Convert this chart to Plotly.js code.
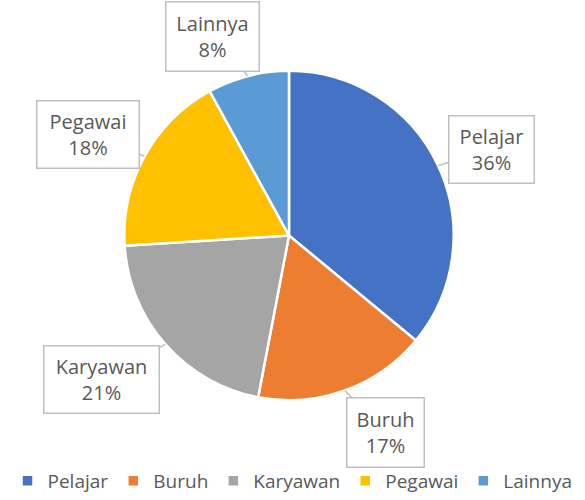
<!DOCTYPE html>
<html>
<head>
<meta charset="utf-8">
<script src="https://cdn.plot.ly/plotly-3.0.1.min.js"></script>
<style>html,body{margin:0;padding:0;background:#fff;}#chart{width:585px;height:500px;}</style>
</head>
<body>
<div id="chart"></div>
<script>
// ---- data ----
const categories = ["Pelajar", "Buruh", "Karyawan", "Pegawai", "Lainnya"];
const values = [36, 17, 21, 18, 8];
const colors = ["#4472C4", "#ED7D31", "#A5A5A5", "#FFC000", "#5B9BD5"];

// ---- layout/style (not data) ----
const W = 585, H = 500;
const cx = 289, cy = 236, R = 165;          // pie geometry in px
// label box centres and sizes (px)
const boxPos = [[491, 150], [385, 433], [101, 380], [88, 135], [212, 37]];
const boxSize = [[80, 62], [72, 64], [110, 62], [97, 62], [88, 64]];
const txtColor = "#595959";
const fontFam = "'Open Sans', 'Noto Sans', sans-serif";

const total = values.reduce((a, b) => a + b, 0);
let cum = 0;
const annotations = values.map((v, i) => {
  const mid = (cum + v / 2) / total * 2 * Math.PI;
  cum += v;
  const tx = cx + R * Math.sin(mid);
  const ty = cy - R * Math.cos(mid);
  const pct = Math.round(v / total * 100) + "%";
  return {
    xref: "paper", yref: "paper",
    x: tx / W, y: 1 - ty / H,
    ax: boxPos[i][0] - tx, ay: boxPos[i][1] - ty,
    axref: "pixel", ayref: "pixel",
    text: categories[i] + "<br>" + pct,
    showarrow: true, arrowhead: 0, arrowwidth: 1.5, arrowcolor: "#BFBFBF",
    standoff: 0, startstandoff: 0,
    bgcolor: "#FFFFFF", bordercolor: "#BFBFBF", borderwidth: 1.5, borderpad: 2,
    width: boxSize[i][0], height: boxSize[i][1],
    font: {family: fontFam, size: 20, color: txtColor},
    align: "center", valign: "middle"
  };
});

const trace = {
  type: "pie",
  labels: categories,
  values: values,
  sort: false,
  direction: "clockwise",
  rotation: 0,
  textinfo: "none",
  hoverinfo: "label+percent",
  marker: {colors: colors, line: {color: "#FFFFFF", width: 2.5}},
  domain: {x: [(cx - R) / W, (cx + R) / W], y: [1 - (cy + R) / H, 1 - (cy - R) / H]}
};

const layout = {
  width: W, height: H,
  margin: {l: 0, r: 0, t: 0, b: 0},
  paper_bgcolor: "#FFFFFF",
  showlegend: true,
  legend: {
    orientation: "h", x: 0.5, xanchor: "center", y: 1 - 482 / H, yanchor: "middle",
    font: {family: fontFam, size: 19, color: txtColor},
    itemwidth: 30, tracegroupgap: 0
  },
  annotations: annotations
};

Plotly.newPlot("chart", [trace], layout, {displayModeBar: false, staticPlot: true});
</script>
</body>
</html>
